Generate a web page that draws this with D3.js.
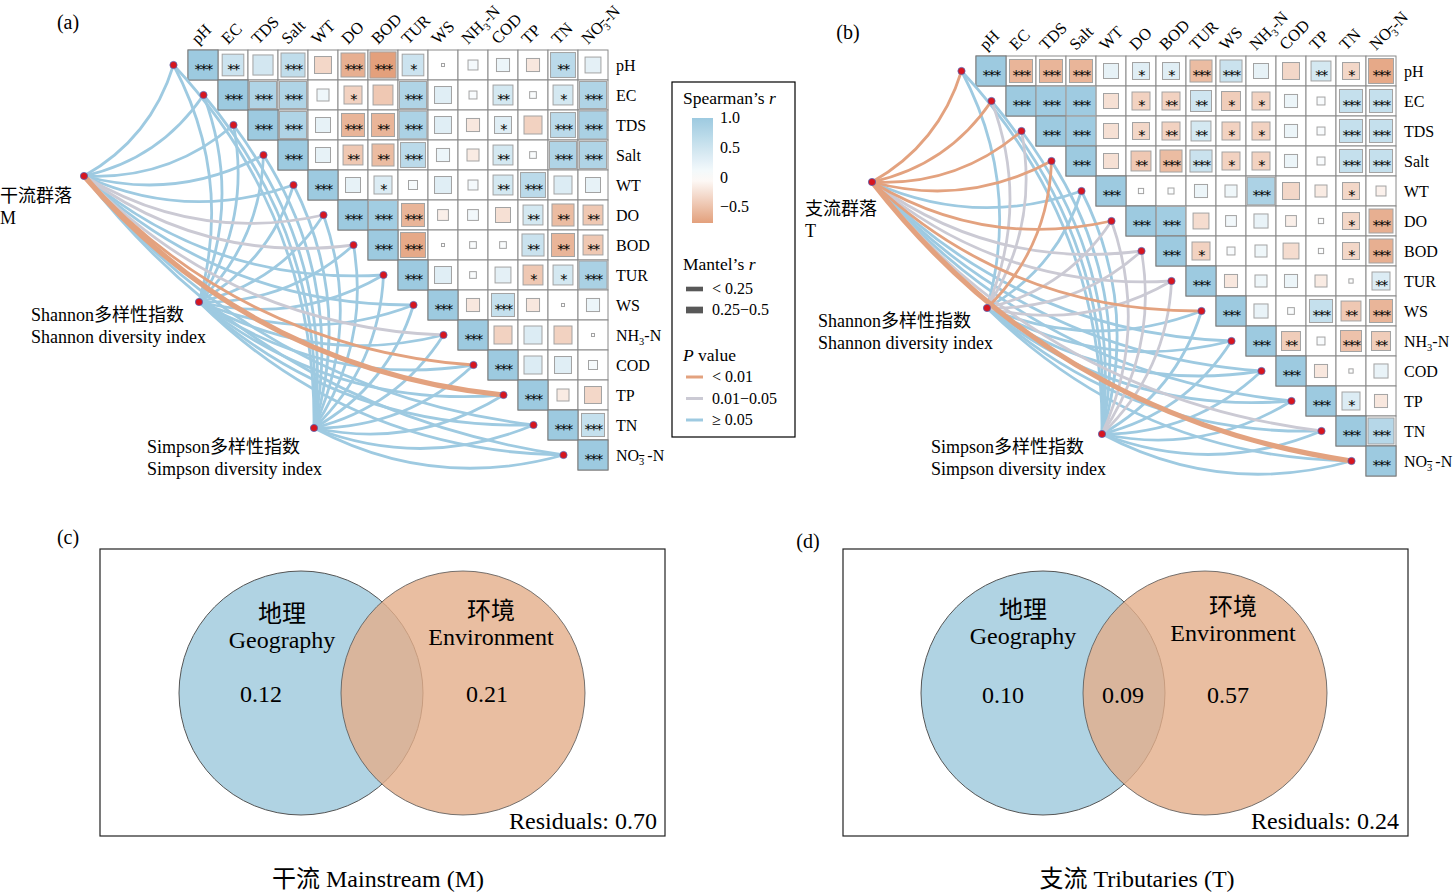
<!DOCTYPE html>
<html>
<head>
<meta charset="UTF-8">
<title>Mantel test and variation partitioning</title>
<script src="https://d3js.org/d3.v7.min.js"></script>
<style>
body { margin: 0; background: #fff; }
text { font-family: "Liberation Serif", "Times New Roman", "Noto Sans CJK SC", serif; fill: #000; }
</style>
</head>
<body>
<script type="text/javascript">

/* Environmental variables (rows and columns of both heatmaps) */
var vars = ['pH', 'EC', 'TDS', 'Salt', 'WT', 'DO', 'BOD', 'TUR', 'WS', 'NH3-N', 'COD', 'TP', 'TN', 'NO3-N']

/* Spearman's r, upper triangle row by row, each row starts at the diagonal */
var rMain = [
	[1, .52, .45, .64, -.32, -.64, -.76, .52, .01, .11, .19, -.19, .69, .28],
	[1, .81, .81, .16, -.36, -.44, .81, .32, .07, .44, .05, .44, .81],
	[1, .81, .25, -.59, -.59, .85, .32, -.19, .32, -.36, .69, .87],
	[1, .25, -.44, -.54, .69, .19, -.16, .44, .05, .81, .81],
	[1, .25, .36, .09, .32, .11, .44, .69, .36, .25],
	[1, .95, -.59, -.13, .13, -.25, .44, -.54, -.44],
	[1, -.69, .01, .05, .05, .54, -.59, -.44],
	[1, .32, .05, .28, -.44, .44, .87],
	[1, -.19, .59, -.19, .01, .19],
	[1, -.36, .36, -.36, .01],
	[1, .36, .32, .09],
	[1, -.16, -.32],
	[1, .59],
	[1]
]
var starsMain = [
	['***', '**', '', '***', '', '***', '***', '*', '', '', '', '', '**', ''],
	['***', '***', '***', '', '*', '', '***', '', '', '**', '', '*', '***'],
	['***', '***', '', '***', '**', '***', '', '', '*', '', '***', '***'],
	['***', '', '**', '**', '***', '', '', '**', '', '***', '***'],
	['***', '', '*', '', '', '', '**', '***', '', ''],
	['***', '***', '***', '', '', '', '**', '**', '**'],
	['***', '***', '', '', '', '**', '**', '**'],
	['***', '', '', '', '*', '*', '***'],
	['***', '', '***', '', '', ''],
	['***', '', '', '', ''],
	['***', '', '', ''],
	['***', '', ''],
	['***', '***'],
	['***']
]
var rTrib = [
	[1, -.59, -.59, -.59, .25, .32, .32, -.54, .54, .25, -.32, .44, -.32, -.69],
	[1, .98, .98, -.25, -.36, -.36, .49, -.4, -.36, .19, .07, .59, .59],
	[1, .98, -.25, -.32, -.36, .44, -.36, -.36, .19, .07, .59, .59],
	[1, -.25, -.44, -.54, .54, -.36, -.36, .19, .07, .59, .59],
	[1, .03, .04, .19, .16, .85, -.32, -.16, -.32, -.11],
	[1, .95, -.28, .13, .22, -.13, .03, -.32, -.64],
	[1, -.36, .07, .16, -.28, .03, -.32, -.64],
	[1, -.19, .16, .19, -.16, .02, .36],
	[1, .22, .05, .59, -.44, -.59],
	[1, -.4, .07, -.49, -.4],
	[1, -.19, .02, .22],
	[1, .36, -.19],
	[1, .75],
	[1]
]
var starsTrib = [
	['***', '***', '***', '***', '', '*', '*', '***', '***', '', '', '**', '*', '***'],
	['***', '***', '***', '', '*', '**', '**', '*', '*', '', '', '***', '***'],
	['***', '***', '', '*', '**', '**', '*', '*', '', '', '***', '***'],
	['***', '', '**', '***', '***', '*', '*', '', '', '***', '***'],
	['***', '', '', '', '', '***', '', '', '*', ''],
	['***', '***', '', '', '', '', '', '*', '***'],
	['***', '*', '', '', '', '', '*', '***'],
	['***', '', '', '', '', '', '**'],
	['***', '', '', '***', '**', '***'],
	['***', '**', '', '***', '**'],
	['***', '', '', ''],
	['***', '*', ''],
	['***', '***'],
	['***']
]

/* Mantel links, one entry per variable: P class (o < 0.01, g 0.01-0.05, b >= 0.05)
   and Mantel's r class (0: < 0.25, 1: 0.25-0.5) */
var pMainCommunity = ['b','b','b','b','b','g','g','b','b','g','o','o','b','b']
var mMainCommunity = [0,0,0,0,0,0,0,0,0,0,0,1,0,0]
var pMainShannon   = ['b','b','b','b','b','b','b','b','b','b','b','b','b','b']
var mMainShannon   = [0,0,0,0,0,0,0,0,0,0,0,0,0,0]
var pMainSimpson   = ['b','b','b','b','b','b','b','b','b','b','b','b','b','b']
var mMainSimpson   = [0,0,0,0,0,0,0,0,0,0,0,0,0,0]
var pTribCommunity = ['o','o','o','o','b','o','g','g','o','b','b','b','g','o']
var mTribCommunity = [0,0,0,0,0,0,0,0,0,0,0,0,0,1]
var pTribShannon   = ['b','g','g','o','b','g','g','g','b','b','b','b','b','b']
var mTribShannon   = [0,0,0,0,0,0,0,0,0,0,0,0,0,0]
var pTribSimpson   = ['b','b','b','b','b','g','g','g','b','b','b','b','b','b']
var mTribSimpson   = [0,0,0,0,0,0,0,0,0,0,0,0,0,0]

/* Variation partitioning (VPA) */
var vennGeo = [0.12, 0.10]
var vennShared = [null, 0.09]
var vennEnv = [0.21, 0.57]
var vennResiduals = [0.70, 0.24]
var vennTitles = ['干流 Mainstream (M)', '支流 Tributaries (T)']

/* Global styling */
var W = 1453, H = 892
var cell = 30
var colorR = d3.scaleLinear().domain([-0.76, 0, 1]).range(['#e3a07c', '#ffffff', '#9dcae0'])
var sizeR = d3.scaleSqrt().domain([0, 1]).range([0, cell])
var pColor = { o: '#e3a27f', g: '#cbcad4', b: '#9ecae1' }
var pOrder = { b: 0, g: 1, o: 2 }
var mWidth = [2.8, 5.2]

var svg = d3.select('body').append('svg')
	.attr('width', W)
	.attr('height', H)

svg.append('rect').attr('width', W).attr('height', H).attr('fill', '#fff')

/* Writes a variable name, with subscripts for NH3-N and NO3-N */
function writeVar(t, name, gap) {
	if (name == 'NH3-N') {
		t.append('tspan').text('NH')
		t.append('tspan').attr('dy', 4).attr('font-size', '0.65em').text('3')
		t.append('tspan').attr('dy', -4).text('-N')
	} else if (name == 'NO3-N') {
		t.append('tspan').text('NO')
		t.append('tspan').attr('dy', 4).attr('font-size', '0.65em')
			.style('text-decoration', 'overline').text('3')
		t.append('tspan').attr('dy', -4).attr('dx', gap ? 3 : 0).text('-N')
	} else {
		t.text(name)
	}
}

/* Quadratic curve bowing to the right of the travel direction */
function curvePath(s, t) {
	var dx = t[0] - s[0], dy = t[1] - s[1]
	var k = 0.2
	var p = d3.path()
	p.moveTo(s[0], s[1])
	p.quadraticCurveTo((s[0] + t[0]) / 2 - dy * k, (s[1] + t[1]) / 2 + dx * k, t[0], t[1])
	return p.toString()
}

/* Heatmap + Mantel links panel */
function drawPanel(o) {
	var g = svg.append('g')
	var x = d3.scaleBand().domain(vars).range([o.gx, o.gx + vars.length * cell])
	var y = d3.scaleBand().domain(vars).range([o.gy, o.gy + vars.length * cell])

	g.append('text').attr('x', o.letter[1]).attr('y', o.letter[2])
		.attr('text-anchor', 'middle').attr('font-size', 20).text(o.letter[0])

	// cells
	var cells = []
	o.r.forEach(function(row, i) {
		row.forEach(function(v, k) {
			cells.push({ row: vars[i], col: vars[i + k], r: v, s: o.stars[i][k] })
		})
	})
	g.selectAll('rect.bg').data(cells).enter().append('rect')
		.attr('class', 'bg')
		.attr('x', function(d) { return x(d.col) })
		.attr('y', function(d) { return y(d.row) })
		.attr('width', cell).attr('height', cell)
		.attr('fill', '#fff').attr('stroke', '#8a8a8a').attr('stroke-width', 1)
	g.selectAll('rect.mk').data(cells).enter().append('rect')
		.attr('class', 'mk')
		.attr('x', function(d) { return x(d.col) + (cell - sizeR(Math.abs(d.r))) / 2 })
		.attr('y', function(d) { return y(d.row) + (cell - sizeR(Math.abs(d.r))) / 2 })
		.attr('width', function(d) { return sizeR(Math.abs(d.r)) })
		.attr('height', function(d) { return sizeR(Math.abs(d.r)) })
		.attr('fill', function(d) { return colorR(d.r) })
		.attr('stroke', function(d) { return d.row == d.col ? '#7a7a7a' : '#a3a3a3' })
		.attr('stroke-width', 1)
	g.selectAll('text.st').data(cells.filter(function(d) { return d.s })).enter().append('text')
		.attr('class', 'st')
		.attr('x', function(d) { return x(d.col) + cell / 2 })
		.attr('y', function(d) { return y(d.row) + cell / 2 + 8.5 })
		.attr('text-anchor', 'middle')
		.style('font-family', '"DejaVu Sans", sans-serif')
		.attr('font-size', 14.5)
		.attr('letter-spacing', -1.5)
		.text(function(d) { return d.s })

	// column labels
	vars.forEach(function(v) {
		var t = g.append('text')
			.attr('transform', 'translate(' + (x(v) + cell / 2 - 5) + ',' + (o.gy - 5) + ') rotate(-45)')
			.attr('font-size', 16.5)
		writeVar(t, v, false)
	})
	// row labels
	vars.forEach(function(v) {
		var t = g.append('text')
			.attr('x', o.gx + vars.length * cell + 8)
			.attr('y', y(v) + cell / 2 + 6)
			.attr('font-size', 16)
		writeVar(t, v, true)
	})

	// links
	var nodes = vars.map(function(v) { return [x(v) - 14.5, y(v) + cell / 2] })
	var links = []
	o.sources.forEach(function(src) {
		src.pos = [o.gx + src.node[0], o.gy + src.node[1]]
		vars.forEach(function(v, i) {
			links.push({ s: src.pos, t: nodes[i], p: src.p[i], m: src.m[i] })
		})
	})
	links.sort(function(a, b) { return pOrder[a.p] - pOrder[b.p] || a.m - b.m })
	g.selectAll('path.link').data(links).enter().append('path')
		.attr('class', 'link')
		.attr('d', function(d) { return curvePath(d.s, d.t) })
		.attr('fill', 'none')
		.attr('stroke', function(d) { return pColor[d.p] })
		.attr('stroke-width', function(d) { return mWidth[d.m] })

	var pts = nodes.concat(o.sources.map(function(s) { return s.pos }))
	g.selectAll('circle.node').data(pts).enter().append('circle')
		.attr('class', 'node')
		.attr('cx', function(d) { return d[0] })
		.attr('cy', function(d) { return d[1] })
		.attr('r', 3.6)
		.attr('fill', '#d7161f').attr('stroke', '#5a62b0').attr('stroke-width', 0.8)

	o.sources.forEach(function(src) {
		src.label.forEach(function(l, i) {
			g.append('text').attr('x', src.lx).attr('y', src.ly + i * 21.5)
				.attr('font-size', 18).text(l)
		})
	})
}

drawPanel({
	letter: ['(a)', 68, 29], gx: 188, gy: 50, r: rMain, stars: starsMain,
	sources: [
		{ label: ['干流群落', 'M'], lx: 0, ly: 202, node: [-104, 126], p: pMainCommunity, m: mMainCommunity },
		{ label: ['Shannon多样性指数', 'Shannon diversity index'], lx: 31, ly: 321, node: [11, 252], p: pMainShannon, m: mMainShannon },
		{ label: ['Simpson多样性指数', 'Simpson diversity index'], lx: 147, ly: 453, node: [126, 378], p: pMainSimpson, m: mMainSimpson }
	]
})
drawPanel({
	letter: ['(b)', 848, 39], gx: 976, gy: 56, r: rTrib, stars: starsTrib,
	sources: [
		{ label: ['支流群落', 'T'], lx: 805, ly: 215, node: [-104, 126], p: pTribCommunity, m: mTribCommunity },
		{ label: ['Shannon多样性指数', 'Shannon diversity index'], lx: 818, ly: 327, node: [11, 252], p: pTribShannon, m: mTribShannon },
		{ label: ['Simpson多样性指数', 'Simpson diversity index'], lx: 931, ly: 453, node: [126, 378], p: pTribSimpson, m: mTribSimpson }
	]
})

/* Legend */
function drawLegend(lx, ly) {
	var g = svg.append('g')
	g.append('rect').attr('x', lx).attr('y', ly).attr('width', 123).attr('height', 355)
		.attr('fill', 'none').attr('stroke', '#000').attr('stroke-width', 1.2)
	var t = g.append('text').attr('x', lx + 11).attr('y', ly + 22).attr('font-size', 17.5)
	t.append('tspan').text('Spearman’s ')
	t.append('tspan').attr('font-style', 'italic').text('r')

	var ls = d3.scaleLinear().domain([1, -0.76]).range([ly + 36, ly + 141])
	var grad = svg.append('defs').append('linearGradient').attr('id', 'rgrad')
		.attr('x1', 0).attr('x2', 0).attr('y1', 0).attr('y2', 1)
	d3.range(0, 1.0001, 0.1).forEach(function(f) {
		grad.append('stop').attr('offset', f).attr('stop-color', colorR(ls.invert(ly + 36 + f * 105)))
	})
	g.append('rect').attr('x', lx + 20).attr('y', ls(1)).attr('width', 21).attr('height', 105)
		.attr('fill', 'url(#rgrad)')
	;[1, 0.5, 0, -0.5].forEach(function(v) {
		g.append('text').attr('x', lx + 48).attr('y', ls(v) + 5).attr('font-size', 16)
			.text(v == 0 ? '0' : (v < 0 ? '−' + d3.format('.1f')(-v) : d3.format('.1f')(v)))
	})

	t = g.append('text').attr('x', lx + 11).attr('y', ly + 188).attr('font-size', 17.5)
	t.append('tspan').text('Mantel’s ')
	t.append('tspan').attr('font-style', 'italic').text('r')
	var mLab = ['< 0.25', '0.25−0.5'], mH = [4.6, 6.7]
	mLab.forEach(function(l, i) {
		var cy = ly + 207 + i * 21
		g.append('rect').attr('x', lx + 14).attr('y', cy - mH[i] / 2).attr('width', 17).attr('height', mH[i]).attr('fill', '#585858')
		g.append('text').attr('x', lx + 40).attr('y', cy + 5).attr('font-size', 16).text(l)
	})

	t = g.append('text').attr('x', lx + 11).attr('y', ly + 279).attr('font-size', 17.5)
	t.append('tspan').attr('font-style', 'italic').text('P')
	t.append('tspan').text(' value')
	var pLab = [['o', '< 0.01'], ['g', '0.01−0.05'], ['b', '≥ 0.05']]
	pLab.forEach(function(l, i) {
		var cy = ly + 295 + i * 21.5
		g.append('line').attr('x1', lx + 14).attr('x2', lx + 31).attr('y1', cy).attr('y2', cy)
			.attr('stroke', pColor[l[0]]).attr('stroke-width', 3)
		g.append('text').attr('x', lx + 40).attr('y', cy + 5).attr('font-size', 16).text(l[1])
	})
}
drawLegend(672, 82)

/* Venn diagrams (VPA) */
var vennLayout = [
	{ letter: [68, 544, '(c)'], box: [100, 549, 565, 287], geo: [301, 693], env: [463, 693],
	  geoText: [282, 622, 648], envText: [491, 619, 645], geoVal: [261, 702], envVal: [487, 702], sharedVal: [382, 702],
	  res: [657, 829], title: [378, 887] },
	{ letter: [808, 548, '(d)'], box: [843, 549, 565, 287], geo: [1043, 693], env: [1205, 693],
	  geoText: [1023, 618, 644], envText: [1233, 615, 641], geoVal: [1003, 703], envVal: [1228, 703], sharedVal: [1123, 703],
	  res: [1399, 829], title: [1137, 887] }
]
var vennR = 122

vennLayout.forEach(function(L, k) {
	var g = svg.append('g')
	g.append('text').attr('x', L.letter[0]).attr('y', L.letter[1]).attr('text-anchor', 'middle')
		.attr('font-size', 20).text(L.letter[2])
	g.append('rect').attr('x', L.box[0]).attr('y', L.box[1]).attr('width', L.box[2]).attr('height', L.box[3])
		.attr('fill', 'none').attr('stroke', '#222').attr('stroke-width', 1.2)
	g.append('circle').attr('cx', L.geo[0]).attr('cy', L.geo[1]).attr('r', vennR)
		.attr('fill', '#b0d3e3').attr('stroke', '#555').attr('stroke-width', 1)
	g.append('circle').attr('cx', L.env[0]).attr('cy', L.env[1]).attr('r', vennR)
		.attr('fill', '#e4ae8a').attr('fill-opacity', 0.8).attr('stroke', '#555').attr('stroke-opacity', 0.8).attr('stroke-width', 1)

	function label(xy, s) {
		g.append('text').attr('x', xy[0]).attr('y', xy[1]).attr('text-anchor', 'middle')
			.attr('font-size', 24).text(s)
	}
	label([L.geoText[0], L.geoText[1]], '地理')
	label([L.geoText[0], L.geoText[2]], 'Geography')
	label([L.envText[0], L.envText[1]], '环境')
	label([L.envText[0], L.envText[2]], 'Environment')
	label(L.geoVal, d3.format('.2f')(vennGeo[k]))
	label(L.envVal, d3.format('.2f')(vennEnv[k]))
	if (vennShared[k] != null) label(L.sharedVal, d3.format('.2f')(vennShared[k]))
	g.append('text').attr('x', L.res[0]).attr('y', L.res[1]).attr('text-anchor', 'end')
		.attr('font-size', 24).text('Residuals: ' + d3.format('.2f')(vennResiduals[k]))
	g.append('text').attr('x', L.title[0]).attr('y', L.title[1]).attr('text-anchor', 'middle')
		.attr('font-size', 24).text(vennTitles[k])
})

</script>
</body>
</html>
